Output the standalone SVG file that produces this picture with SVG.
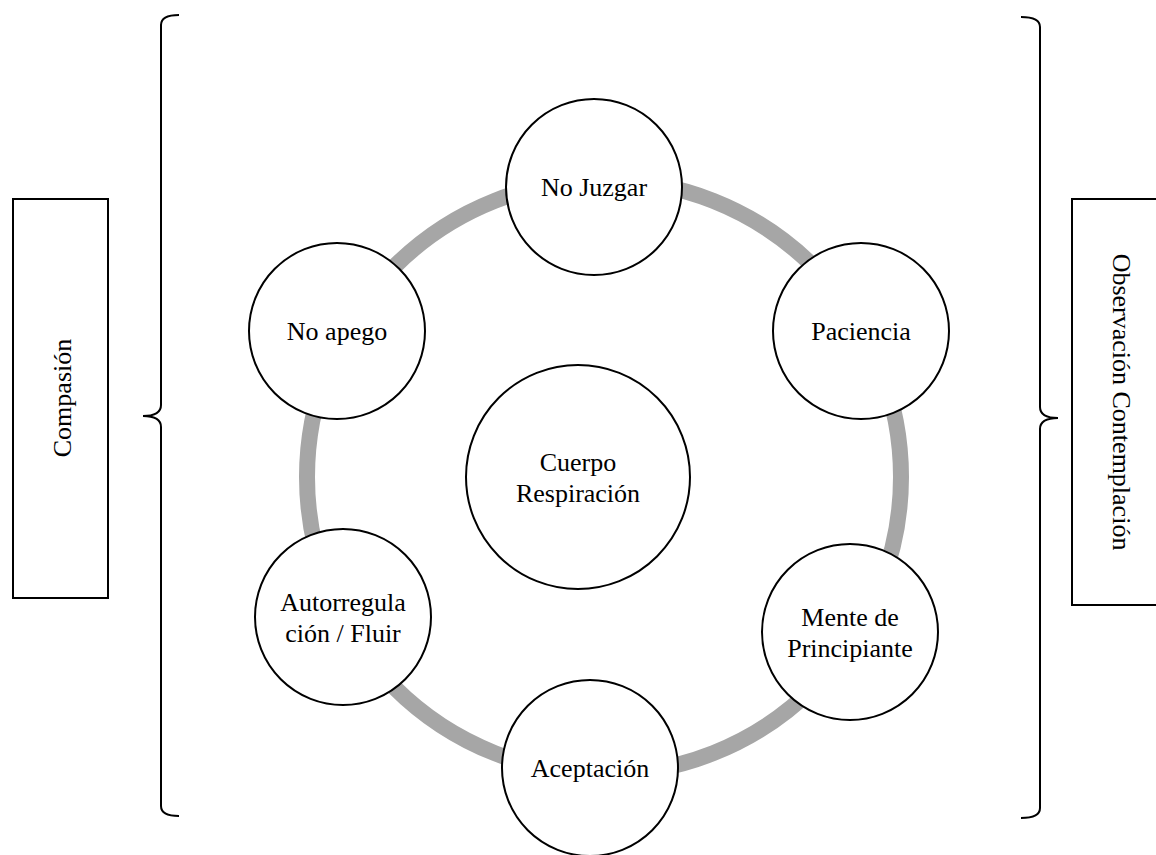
<svg xmlns="http://www.w3.org/2000/svg" width="1156" height="855" viewBox="0 0 1156 855">
<style>
.node{fill:#fff;stroke:#000;stroke-width:2}
.t{font-family:"Liberation Serif","Times New Roman",serif;font-size:26px;fill:#000;text-anchor:middle;dominant-baseline:central}
.br{fill:none;stroke:#000;stroke-width:2}
.ring{fill:none;stroke:#a6a6a6;stroke-width:16}
</style>
<rect width="1156" height="855" fill="#fff"/>
<g id="connectors">
<circle class="ring" cx="604" cy="477" r="297"/>
</g>
<g id="bracket-left"><path class="br" d="M179,15 Q161,15 161,25 L161,405 Q161,416 143,416 Q161,416 161,427 L161,806 Q161,816 179,816"/></g>
<g id="bracket-right"><path class="br" d="M1021,17 Q1040,17 1040,27 L1040,407 Q1040,418 1058,418 Q1040,418 1040,429 L1040,808 Q1040,818 1021,818"/></g>
<g id="compasion"><rect class="node" x="13" y="199" width="95" height="399"/><text class="t" transform="translate(62,398) rotate(-90)">Compasión</text></g>
<g id="observacion"><rect class="node" x="1072" y="199" width="100" height="406"/><text class="t" transform="translate(1121,402) rotate(90)">Observación Contemplación</text></g>
<g id="centro"><circle class="node" cx="578" cy="477" r="112"/><text class="t" x="578" y="462">Cuerpo</text><text class="t" x="578" y="493">Respiración</text></g>
<g id="no-juzgar"><circle class="node" cx="594" cy="187" r="88"/><text class="t" x="594" y="187">No Juzgar</text></g>
<g id="paciencia"><circle class="node" cx="861" cy="331" r="88"/><text class="t" x="861" y="331">Paciencia</text></g>
<g id="mente"><circle class="node" cx="850" cy="632" r="88"/><text class="t" x="850" y="617">Mente de</text><text class="t" x="850" y="648">Principiante</text></g>
<g id="aceptacion"><circle class="node" cx="590" cy="768" r="88"/><text class="t" x="590" y="768">Aceptación</text></g>
<g id="autorregulacion"><circle class="node" cx="343" cy="617" r="88"/><text class="t" x="343" y="602">Autorregula</text><text class="t" x="343" y="633">ción / Fluir</text></g>
<g id="no-apego"><circle class="node" cx="337" cy="331" r="88"/><text class="t" x="337" y="331">No apego</text></g>
</svg>
